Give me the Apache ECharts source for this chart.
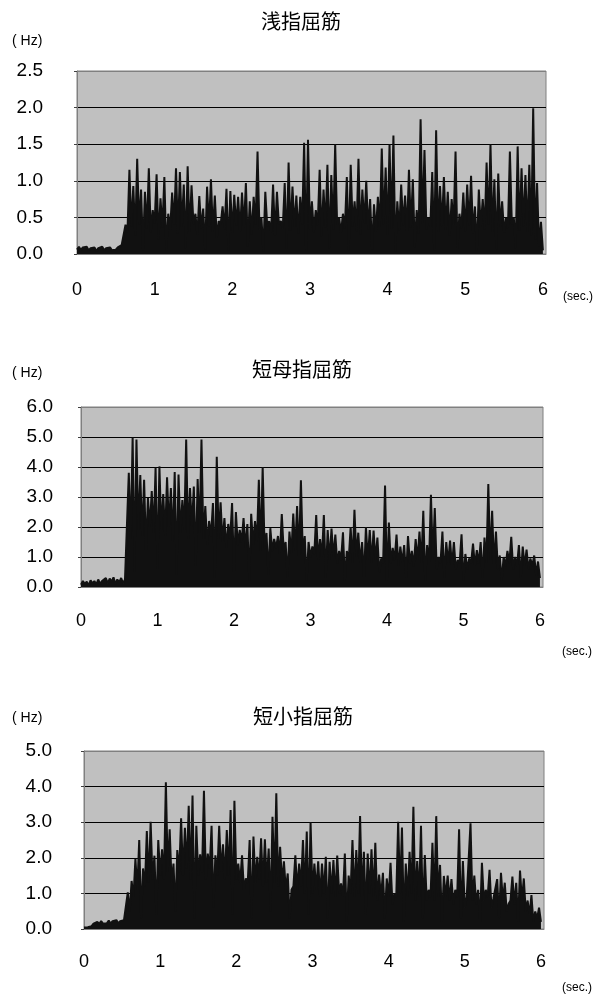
<!DOCTYPE html>
<html><head><meta charset="utf-8">
<script src="https://cdn.jsdelivr.net/npm/echarts@6/dist/echarts.min.js"></script>
<style>html,body{margin:0;padding:0;background:#fff}#c{width:613px;height:999px}</style>
</head><body><div id="c"></div>
<script>
// sample step (s)
const dt = 0.025;
const titles = ['浅指屈筋', '短母指屈筋', '短小指屈筋'];
const xTicks = [0, 1, 2, 3, 4, 5, 6];
const yMax = [2.5, 6, 5];
const yStep = [0.5, 1, 1];

// 浅指屈筋 (Hz), sampled every dt from 0 s
const fdsValues = [
0.06,0.1,0.05,0.09,0.07,0.1,0.05,0.08,0.06,0.09,0.04,0.08,0.06,0.1,0.05,0.08,0.06,0.09,0.05,0.07,0.06,0.09,0.08,0.12,
0.1,0.4, 0.3,1.15, 0.38,0.93, 0.25,1.3, 0.4,0.88, 0.05,0.85, 0.35,1.17, 0.3,0.6, 0.42,1.09, 0.2,0.76,
0.36,1.05, 0.04,0.55, 0.33,0.84, 0.4,1.17, 0.28,1.12, 0.37,0.95, 0.08,1.2, 0.3,0.94, 0.41,0.55, 0.26,0.79,
0.35,0.62, 0.06,0.92, 0.38,1.02, 0.3,0.8, 0.22,0.45, 0.4,0.65, 0.34,0.89, 0.05,0.86, 0.29,0.81, 0.39,0.78,
0.31,0.84, 0.36,0.97, 0.1,0.72, 0.27,0.78, 0.4,1.4, 0.33,0.5, 0.03,0.85, 0.38,0.45, 0.3,0.95, 0.25,0.85,
0.41,0.45, 0.35,0.97, 0.07,1.25, 0.32,0.92, 0.37,0.8, 0.28,0.78, 0.4,1.52, 0.04,1.56, 0.34,0.72, 0.3,0.6,
0.39,1.15, 0.24,0.88, 0.36,1.22, 0.08,1.08, 0.33,1.5, 0.4,0.5, 0.29,0.55, 0.35,1.05, 0.05,1.22, 0.38,0.72,
0.31,1.3, 0.27,0.88, 0.42,1.0, 0.34,0.75, 0.06,0.68, 0.3,0.78, 0.37,1.44, 0.4,1.18, 0.26,1.5, 0.35,1.62,
0.03,0.72, 0.32,0.95, 0.39,0.8, 0.3,1.15, 0.36,1.02, 0.09,0.6, 0.28,1.84, 0.41,1.42, 0.34,0.5, 0.37,1.12,
0.05,1.69, 0.3,0.93, 0.38,1.05, 0.33,0.85, 0.25,0.75, 0.4,1.4, 0.07,0.55, 0.35,0.84, 0.31,0.95, 0.39,1.07,
0.28,0.65, 0.04,0.88, 0.36,0.75, 0.33,1.25, 0.4,1.5, 0.3,1.02, 0.06,1.1, 0.37,0.72, 0.29,0.5, 0.35,1.4,
0.41,0.5, 0.08,1.47, 0.32,1.17, 0.38,1.08, 0.3,1.22, 0.25,1.99, 0.2,0.97, 0.1,0.44,
0.05
];

// 短母指屈筋 (Hz)
const fpbValues = [
0.08,0.2,0.1,0.18,0.05,0.22,0.12,0.2,0.08,0.25,0.1,0.2,0.15,0.3,0.12,0.28,0.18,0.32,0.1,0.25,0.15,0.3,0.12,0.25,
0.3,3.81, 1.6,4.98, 0.5,4.92, 1.9,3.73, 1.7,3.57, 1.2,2.97, 2.0,3.2, 1.8,3.98, 0.6,4.02, 1.9,3.1,
1.7,3.66, 2.0,3.3, 1.5,3.83, 0.4,3.75, 1.8,2.9, 1.9,4.92, 1.6,3.3, 2.0,3.35, 0.7,3.6, 1.8,4.92,
1.6,2.7, 1.4,2.2, 1.7,2.8, 0.3,4.34, 1.6,2.82, 1.5,2.3, 1.3,2.1, 1.6,2.8, 0.5,2.5, 1.4,1.9,
1.5,2.3, 1.3,2.1, 0.2,2.44, 1.4,2.2, 1.5,3.57, 1.2,4.0, 1.3,1.8, 0.4,1.96, 1.2,1.6, 1.3,1.7,
1.1,2.43, 1.2,1.5, 0.3,1.85, 1.1,2.45, 1.2,2.7, 1.0,3.56, 1.1,1.7, 0.2,1.5, 1.0,1.35, 1.1,2.4,
0.9,1.6, 1.0,2.4, 0.3,1.9, 0.9,1.95, 1.0,1.75, 0.8,1.2, 0.9,1.82, 0.2,1.2, 0.9,2.0, 0.8,2.57,
1.0,1.81, 0.8,1.5, 0.3,2.0, 0.9,1.9, 0.8,1.88, 0.9,1.65, 0.5,0.95, 0.8,3.38, 0.2,2.15, 0.8,1.3,
0.9,1.75, 0.7,1.35, 0.8,1.4, 0.3,1.7, 0.8,1.2, 0.7,1.6, 0.9,1.85, 0.8,2.54, 0.2,1.4, 0.8,3.07,
0.9,2.63, 0.6,1.0, 0.8,1.85, 0.3,1.5, 0.8,1.55, 0.7,1.5, 0.6,0.9, 0.8,1.76, 0.2,1.1, 0.6,0.95,
0.8,1.45, 0.7,1.23, 0.8,1.5, 0.3,1.65, 0.8,3.43, 0.9,2.54, 0.7,1.85, 0.6,1.05, 0.2,1.0, 0.7,1.2,
0.8,1.67, 0.6,1.0, 0.7,1.4, 0.3,1.35, 0.7,1.25, 0.6,0.95, 0.7,1.05, 0.4,0.85,
0.3
];

// 短小指屈筋 (Hz)
const fdmValues = [
0.04,0.08,0.05,0.1,0.08,0.15,0.12,0.2,0.14,0.22,0.15,0.2,0.16,0.24,0.15,0.22,0.17,0.25,0.16,0.22,0.18,0.25,
0.2,1.03, 0.5,1.35, 0.9,1.97, 1.1,2.5, 0.3,1.7, 1.2,2.75, 1.3,3.01, 1.4,2.06, 0.4,2.5, 1.5,2.24,
1.4,4.12, 1.6,2.8, 1.3,1.84, 0.5,2.22, 1.6,3.11, 1.5,2.84, 1.7,3.46, 1.4,3.75, 0.3,2.9, 1.5,2.1,
1.6,3.88, 1.4,2.12, 1.7,2.9, 0.6,2.07, 1.5,2.9, 1.6,2.38, 1.4,2.78, 1.5,3.34, 0.4,3.6, 1.4,1.84,
1.3,2.07, 1.1,1.42, 1.3,2.5, 0.3,2.6, 1.3,2.03, 1.4,2.55, 1.2,2.52, 1.3,2.26, 0.5,3.15, 1.3,3.81,
1.2,2.31, 1.3,1.9, 1.1,1.56, 0.3,1.1, 1.2,2.07, 1.1,1.84, 1.2,2.5, 1.0,2.74, 0.4,3.0, 1.0,1.84,
1.1,1.9, 0.9,1.84, 1.0,2.03, 0.3,1.89, 1.0,1.94, 0.9,2.06, 1.0,1.28, 0.9,2.12, 0.2,1.5, 1.0,2.5,
0.9,2.22, 1.0,3.17, 0.9,2.17, 0.4,2.12, 1.0,2.24, 0.9,2.42, 0.8,1.53, 0.9,1.58, 0.3,1.42, 0.9,1.86,
0.7,1.0, 0.9,3.01, 1.0,2.85, 0.2,1.84, 0.9,2.17, 1.0,3.43, 0.8,1.91, 0.9,2.9, 0.3,2.08, 0.8,1.1,
0.9,2.42, 0.8,3.17, 0.9,1.8, 0.2,1.49, 0.9,1.5, 0.8,1.4, 0.7,1.1, 0.9,2.8, 0.3,1.91, 0.6,0.9,
0.9,2.97, 0.8,1.5, 0.7,1.1, 0.2,1.86, 0.8,1.1, 0.9,1.66, 0.6,0.85, 0.8,1.4, 0.3,1.58, 0.8,1.3,
0.5,0.7, 0.8,1.47, 0.7,1.3, 0.2,1.64, 0.8,1.42, 0.5,0.8, 0.4,0.95, 0.2,0.49, 0.3,0.6,
0.2
];

const seriesValues = [fdsValues, fpbValues, fdmValues];

// layout
const grids = [
  {left: 77, top: 71, width: 469, height: 183},
  {left: 81, top: 407, width: 462, height: 180},
  {left: 84, top: 751, width: 460, height: 178}
];
const yLabelMargin = [34, 28, 32];
const xLabelMargin = [27, 25, 24];

const toPairs = vals => vals.map((v, i) => [Math.round(i * dt * 1000) / 1000, v]);

const chart = echarts.init(document.getElementById('c'), null, {renderer: 'canvas'});
const font = '"Liberation Sans", Arial, sans-serif';

const option = {
  animation: false,
  backgroundColor: '#ffffff',
  grid: grids.map(g => Object.assign({show: true, backgroundColor: '#c0c0c0', borderColor: '#808080', borderWidth: 1}, g)),
  xAxis: grids.map((g, i) => ({
    gridIndex: i, type: 'value', min: 0, max: 6.04, interval: 1,
    axisLine: {show: true, lineStyle: {color: '#808080', width: 1}},
    axisTick: {show: false},
    splitLine: {show: false},
    axisLabel: {margin: xLabelMargin[i], fontSize: 18, color: '#000', fontFamily: font,
      formatter: v => (xTicks.indexOf(v) >= 0 ? String(v) : '')}
  })),
  yAxis: grids.map((g, i) => {
    const n = Math.round(yMax[i] / yStep[i]);
    const cols = [];
    for (let k = 0; k < n; k++) cols.push('#000000');
    cols.push('#808080');
    return {
      gridIndex: i, type: 'value', min: 0, max: yMax[i], interval: yStep[i],
      axisLine: {show: true, lineStyle: {color: '#808080', width: 1}},
      axisTick: {show: true, length: 3, lineStyle: {color: '#404040'}},
      splitLine: {show: true, lineStyle: {color: cols, width: 1}},
      axisLabel: {margin: yLabelMargin[i], fontSize: 19, color: '#000', fontFamily: font,
        formatter: v => v.toFixed(1)}
    };
  }),
  series: seriesValues.map((vals, i) => ({
    type: 'line', xAxisIndex: i, yAxisIndex: i, data: toPairs(vals),
    showSymbol: false, symbol: 'none', smooth: false,
    lineStyle: {color: '#111111', width: 2},
    areaStyle: {color: '#111111', opacity: 1},
    z: 3
  })),
  graphic: [
    {type: 'text', x: 301, y: 21, style: {text: titles[0], font: '20px "Noto Sans CJK JP"', fill: '#000', textAlign: 'center', textVerticalAlign: 'middle'}},
    {type: 'text', x: 302, y: 369, style: {text: titles[1], font: '20px "Noto Sans CJK JP"', fill: '#000', textAlign: 'center', textVerticalAlign: 'middle'}},
    {type: 'text', x: 303, y: 716, style: {text: titles[2], font: '20px "Noto Sans CJK JP"', fill: '#000', textAlign: 'center', textVerticalAlign: 'middle'}},
    {type: 'text', x: 12, y: 41, style: {text: '( Hz)', font: '14px ' + font, fill: '#000', textVerticalAlign: 'middle'}},
    {type: 'text', x: 12, y: 373, style: {text: '( Hz)', font: '14px ' + font, fill: '#000', textVerticalAlign: 'middle'}},
    {type: 'text', x: 12, y: 718, style: {text: '( Hz)', font: '14px ' + font, fill: '#000', textVerticalAlign: 'middle'}},
    {type: 'text', x: 563, y: 297, style: {text: '(sec.)', font: '12px ' + font, fill: '#000', textVerticalAlign: 'middle'}},
    {type: 'text', x: 562, y: 652, style: {text: '(sec.)', font: '12px ' + font, fill: '#000', textVerticalAlign: 'middle'}},
    {type: 'text', x: 562, y: 988, style: {text: '(sec.)', font: '12px ' + font, fill: '#000', textVerticalAlign: 'middle'}}
  ]
};
chart.setOption(option);
</script>
</body></html>
